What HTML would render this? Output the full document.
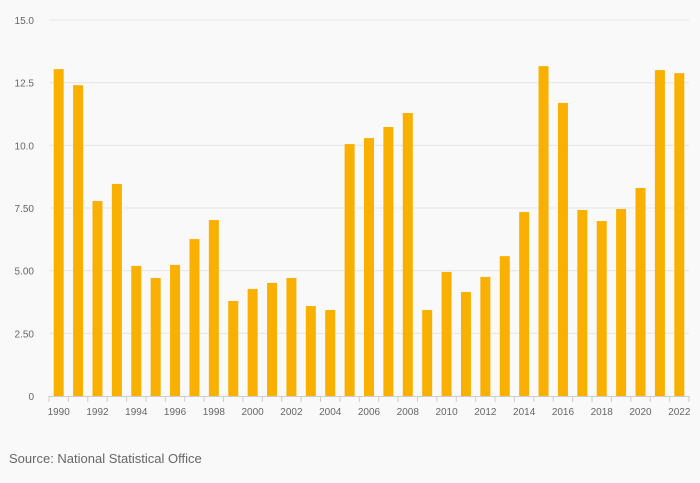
<!DOCTYPE html>
<html><head><meta charset="utf-8"><style>
body{margin:0;background:#f9f9f9;font-family:"Liberation Sans",sans-serif;}
svg{display:block}
</style></head><body>
<svg id="chart" width="700" height="483">
<rect width="700" height="483" fill="#f9f9f9"/>
<g id="grid"></g><g id="bars"></g><g id="axis"></g>
<text x="9" y="463" font-size="13" fill="#666">Source: National Statistical Office</text>
</svg>
<script>
const years=[1990,1991,1992,1993,1994,1995,1996,1997,1998,1999,2000,2001,2002,2003,2004,2005,2006,2007,2008,2009,2010,2011,2012,2013,2014,2015,2016,2017,2018,2019,2020,2021,2022];
const values=[13.04,12.4,7.78,8.46,5.19,4.71,5.23,6.26,7.02,3.79,4.27,4.51,4.71,3.59,3.43,10.05,10.29,10.73,11.29,3.43,4.95,4.15,4.75,5.58,7.34,13.16,11.69,7.42,6.98,7.46,8.3,13.0,12.88];
const yTicks=[0,2.5,5,7.5,10,12.5,15];
const yTickLabels=["0","2.50","5.00","7.50","10.0","12.5","15.0"];
const ns="http://www.w3.org/2000/svg";
const x0=49,x1=689,yBase=396,yTop=20,yMax=15;
const band=(x1-x0)/years.length;
const xs=i=>x0+band*(i+0.5);
const ys=v=>yBase-(v/yMax)*(yBase-yTop);
function mk(t,a,p){const e=document.createElementNS(ns,t);for(const k in a)e.setAttribute(k,a[k]);p.appendChild(e);return e;}
const grid=document.getElementById('grid'),bars=document.getElementById('bars'),axis=document.getElementById('axis');
yTicks.forEach((t,i)=>{
 const y=ys(t);
 if(t>0){const l=mk('line',{x1:x0,x2:x1,y1:y,y2:y,stroke:'#e6e6e6','stroke-width':1},grid);
 
 }
 const tx=mk('text',{x:34,y:y+4,'font-size':10,fill:'#666','text-anchor':'end'},axis);
 tx.textContent=yTickLabels[i];
 
 
});
const bl=mk('line',{x1:x0,x2:x1,y1:yBase+0.5,y2:yBase+0.5,stroke:'#ccc'},axis);


values.forEach((v,i)=>{
 const r=mk('rect',{x:xs(i)-5,y:ys(v),width:10,height:yBase-ys(v),fill:'#f9b000'},bars);
 
 
 const tk=mk('line',{x1:x0+band*i,x2:x0+band*i,y1:yBase,y2:yBase+6,stroke:'#ccc'},axis);
 
 
 if(i%2===0){const t=mk('text',{x:xs(i),y:yBase+19,'font-size':10,fill:'#666','text-anchor':'middle'},axis);
 t.textContent=years[i];
 
 }
});
const lt=mk('line',{x1:x1,x2:x1,y1:yBase,y2:yBase+6,stroke:'#ccc'},axis);


</script>
</body></html>
